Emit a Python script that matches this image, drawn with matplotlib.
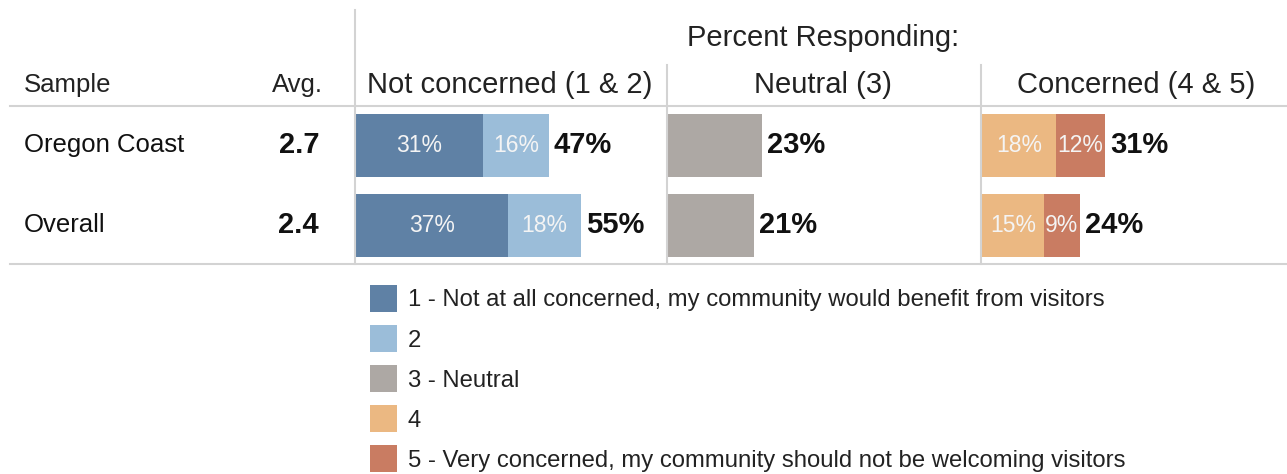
import matplotlib.pyplot as plt
from matplotlib.lines import Line2D
from matplotlib.patches import Patch

plt.rcParams['font.family'] = ['Liberation Sans', 'DejaVu Sans']

samples = ["Oregon Coast", "Overall"]
avgs = ["2.7", "2.4"]
p1 = [31, 37]          # 1 - Not at all concerned
p2 = [16, 18]          # 2
p3 = [23, 21]          # 3 - Neutral
p4 = [18, 15]          # 4
p5 = [12, 9]           # 5 - Very concerned
not_concerned = [47, 55]
neutral_tot = [23, 21]
concerned = [31, 24]

groups = ["Not concerned (1 & 2)", "Neutral (3)", "Concerned (4 & 5)"]
legend_labels = ["1 - Not at all concerned, my community would benefit from visitors",
                 "2", "3 - Neutral", "4",
                 "5 - Very concerned, my community should not be welcoming visitors"]
colors = ["#5f81a5", "#9bbdd9", "#ada8a4", "#ebb882", "#c97c62"]

W, H = 1287, 474
fig = plt.figure(figsize=(W / 100, H / 100), dpi=100)

def fx(x):
    return x / W

def fy(y):
    return 1 - y / H

grid = "#d3d3d3"
# table lines
fig.add_artist(Line2D([fx(10), 1], [fy(106), fy(106)], color=grid, lw=1.5))
fig.add_artist(Line2D([fx(10), 1], [fy(264), fy(264)], color=grid, lw=1.5))
fig.add_artist(Line2D([fx(355), fx(355)], [fy(10), fy(264)], color=grid, lw=1.5))
fig.add_artist(Line2D([fx(667), fx(667)], [fy(65), fy(264)], color=grid, lw=1.5))
fig.add_artist(Line2D([fx(981), fx(981)], [fy(65), fy(264)], color=grid, lw=1.5))

txt = "#222222"
fig.text(fx(823), fy(38), "Percent Responding:", ha="center", va="center", fontsize=21, color=txt)
fig.text(fx(24), fy(85), "Sample", ha="left", va="center", fontsize=18.5, color=txt)
fig.text(fx(323), fy(85), "Avg.", ha="right", va="center", fontsize=18.5, color=txt)
for cx, g in zip([510, 823, 1136], groups):
    fig.text(fx(cx), fy(85), g, ha="center", va="center", fontsize=21, color=txt)

row_y = [145, 225]
for i in range(2):
    fig.text(fx(24), fy(row_y[i]), samples[i], ha="left", va="center", fontsize=18.5, color="#111111")
    fig.text(fx(319), fy(row_y[i]), avgs[i], ha="right", va="center", fontsize=21,
             fontweight="bold", color="#111111")

scale = 4.1  # px per percent
panels = [(356, 667), (668, 981), (982, 1287)]
top, bot = 106, 264
y0 = -(145.5 - top) / 80
y1 = (bot - top) / 80 + y0
rows = [0, 1]
bh = 63 / 80

def make_ax(left, right):
    ax = fig.add_axes([fx(left), fy(bot), fx(right - left), (bot - top) / H])
    ax.set_xlim(0, (right - left) / scale)
    ax.set_ylim(y1, y0)
    ax.axis("off")
    return ax

def inner(ax, lefts, vals):
    for r, l, v in zip(rows, lefts, vals):
        ax.text(l + v / 2, r, f"{v}%", ha="center", va="center", fontsize=16.5,
                color="#f4f4f4")

def total(ax, ends, vals):
    for r, e, v in zip(rows, ends, vals):
        ax.text(e + 1.2, r, f"{v}%", ha="left", va="center", fontsize=21,
                fontweight="bold", color="#111111")

ax1 = make_ax(*panels[0])
ax1.barh(rows, p1, height=bh, color=colors[0])
ax1.barh(rows, p2, left=p1, height=bh, color=colors[1])
inner(ax1, [0, 0], p1)
inner(ax1, p1, p2)
total(ax1, [a + b for a, b in zip(p1, p2)], not_concerned)

ax2 = make_ax(*panels[1])
ax2.barh(rows, p3, height=bh, color=colors[2])
total(ax2, p3, neutral_tot)

ax3 = make_ax(*panels[2])
ax3.barh(rows, p4, height=bh, color=colors[3])
ax3.barh(rows, p5, left=p4, height=bh, color=colors[4])
inner(ax3, [0, 0], p4)
inner(ax3, p4, p5)
total(ax3, [a + b for a, b in zip(p4, p5)], concerned)

handles = [Patch(facecolor=c, edgecolor="none") for c in colors]
fig.legend(handles, legend_labels, loc="upper left", bbox_to_anchor=(fx(370), fy(285)),
           frameon=False, fontsize=17.2, handlelength=1.12, handleheight=1.36,
           handletextpad=0.45, labelspacing=0.55, borderpad=0, borderaxespad=0,
           labelcolor="#222222")

fig.savefig("out.png", dpi=100)
